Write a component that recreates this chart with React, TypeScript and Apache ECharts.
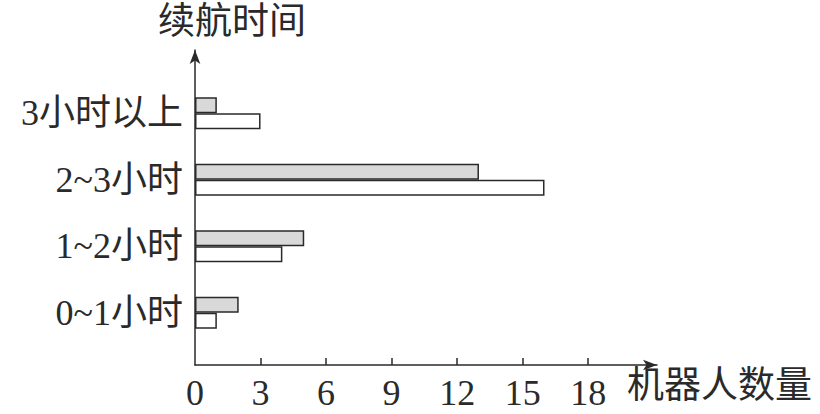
import React, { useEffect, useRef } from "react";
import * as echarts from "echarts";

const categories = ["0~1小时", "1~2小时", "2~3小时", "3小时以上"];
const seriesGray = [2, 5, 13, 1];
const seriesWhite = [1, 4, 16, 3];
const xTickValues = [3, 6, 9, 12, 15, 18];
const xLabelValues = [0, 3, 6, 9, 12, 15, 18];
const yAxisName = "续航时间";
const xAxisName = "机器人数量";

const FONT = "'Liberation Serif', 'Noto Sans CJK SC', serif";
const INK = "#2a2a2a";

export default function App() {
  const ref = useRef<HTMLDivElement>(null);
  useEffect(() => {
    document.body.style.margin = "0";
    const chart = echarts.init(ref.current!, null, { renderer: "svg" });
    const xMax = 21.15;
    chart.setOption({
      animation: false,
      backgroundColor: "#ffffff",
      grid: [
        { left: 195, right: 163, top: 50, bottom: 49 },
        { left: 195, right: 163, top: 80, bottom: 68 },
      ],
      xAxis: [
        {
          type: "value",
          gridIndex: 0,
          min: 0,
          max: xMax,
          interval: 3,
          splitLine: { show: false },
          axisLine: {
            show: true,
            symbol: ["none", "arrow"],
            symbolSize: [8, 14],
            lineStyle: { color: INK, width: 1.5 },
          },
          axisTick: {
            show: true,
            inside: true,
            length: 7,
            customValues: xTickValues,
            lineStyle: { color: INK, width: 1.5 },
          },
          axisLabel: {
            show: true,
            customValues: xLabelValues,
            margin: 10,
            color: INK,
            fontSize: 36,
            fontFamily: FONT,
          },
        },
        {
          type: "value",
          gridIndex: 1,
          min: 0,
          max: xMax,
          show: false,
        },
      ],
      yAxis: [
        {
          type: "value",
          gridIndex: 0,
          min: 0,
          max: 1,
          splitLine: { show: false },
          axisTick: { show: false },
          axisLabel: { show: false },
          axisLine: {
            show: true,
            symbol: ["none", "arrow"],
            symbolSize: [8, 14],
            lineStyle: { color: INK, width: 1.5 },
          },
        },
        {
          type: "category",
          gridIndex: 1,
          data: categories,
          axisLine: { show: false },
          axisTick: { show: false },
          splitLine: { show: false },
          axisLabel: {
            margin: 12,
            color: INK,
            fontSize: 36,
            fontFamily: FONT,
          },
        },
      ],
      series: [
        {
          type: "bar",
          xAxisIndex: 1,
          yAxisIndex: 1,
          data: seriesGray,
          barWidth: 16,
          barGap: "0%",
          itemStyle: { color: "#d9d9d9", borderColor: INK, borderWidth: 1.5 },
        },
        {
          type: "bar",
          xAxisIndex: 1,
          yAxisIndex: 1,
          data: seriesWhite,
          barWidth: 16,
          barGap: "0%",
          itemStyle: { color: "#ffffff", borderColor: INK, borderWidth: 1.5 },
        },
      ],
      graphic: [
        {
          type: "text",
          left: 158,
          top: 3,
          style: {
            text: yAxisName,
            fontSize: 37,
            fontFamily: FONT,
            fill: INK,
          },
        },
        {
          type: "text",
          left: 627,
          top: 367,
          style: {
            text: xAxisName,
            fontSize: 37,
            fontFamily: FONT,
            fill: INK,
          },
        },
      ],
    });
    return () => chart.dispose();
  }, []);
  return <div ref={ref} style={{ width: 820, height: 414 }} />;
}
